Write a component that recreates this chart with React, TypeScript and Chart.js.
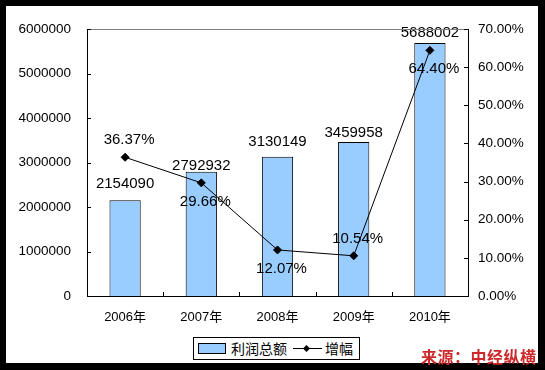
import React, { useEffect, useRef } from "react";
import { Chart, registerables } from "chart.js";

Chart.register(...registerables);

const categories = ["2006年", "2007年", "2008年", "2009年", "2010年"];
const profitTotal = [2154090, 2792932, 3130149, 3459958, 5688002];
const growthRate = [36.37, 29.66, 12.07, 10.54, 64.4];
const barLabelGap = [12, 2, 11, 5, 6];
const rateLabelPlacement = ["above", "below", "below", "above", "below"];

const LATIN = "'Liberation Sans', Arial, 'Noto Sans CJK SC', sans-serif";
const CJK = "'Noto Sans CJK SC', 'Liberation Sans', sans-serif";

const framePlugin = {
  id: "frame",
  beforeDraw(chart: any) {
    const ctx = chart.ctx;
    ctx.save();
    ctx.fillStyle = "#000";
    ctx.fillRect(0, 0, chart.width, chart.height);
    ctx.fillStyle = "#fff";
    ctx.fillRect(6, 6, 532, 357);
    ctx.restore();
  },
  afterDraw(chart: any) {
    const ctx = chart.ctx;
    const { left, right, top, bottom } = chart.chartArea;
    ctx.save();
    ctx.strokeStyle = "#808080";
    ctx.lineWidth = 1;
    ctx.beginPath();
    ctx.moveTo(left, Math.round(top) + 0.5);
    ctx.lineTo(right, Math.round(top) + 0.5);
    ctx.stroke();
    ctx.strokeStyle = "#000";
    ctx.beginPath();
    const ys = chart.scales.y;
    ys.ticks.forEach((t: any) => {
      const py = Math.round(ys.getPixelForValue(t.value)) + 0.5;
      ctx.moveTo(left, py);
      ctx.lineTo(left + 4, py);
    });
    const y1 = chart.scales.y1;
    y1.ticks.forEach((t: any) => {
      const py = Math.round(y1.getPixelForValue(t.value)) + 0.5;
      ctx.moveTo(right, py);
      ctx.lineTo(right - 4, py);
    });
    const n = categories.length;
    for (let i = 1; i < n; i++) {
      const px = Math.round(left + ((right - left) * i) / n) + 0.5;
      ctx.moveTo(px, bottom);
      ctx.lineTo(px, bottom - 4);
    }
    ctx.stroke();
    ctx.restore();
  },
  afterDatasetsDraw(chart: any) {
    const ctx = chart.ctx;
    ctx.save();
    ctx.fillStyle = "#000";
    ctx.font = `15px ${LATIN}`;
    ctx.textAlign = "center";
    ctx.textBaseline = "alphabetic";
    chart.getDatasetMeta(1).data.forEach((el: any, i: number) => {
      ctx.fillText(String(profitTotal[i]), el.x, el.y - barLabelGap[i]);
    });
    chart.getDatasetMeta(0).data.forEach((el: any, i: number) => {
      const txt = growthRate[i].toFixed(2) + "%";
      const dy = rateLabelPlacement[i] === "above" ? -13 : 23;
      ctx.fillText(txt, el.x + 4, el.y + dy);
    });
    ctx.restore();
  },
};

export default function App() {
  const ref = useRef<HTMLCanvasElement>(null);
  useEffect(() => {
    if (!ref.current) return;
    const chart = new Chart(ref.current, {
      type: "bar",
      data: {
        labels: categories,
        datasets: [
          {
            type: "line",
            label: "增幅",
            data: growthRate,
            yAxisID: "y1",
            borderColor: "#000",
            borderWidth: 1,
            pointStyle: "rectRot",
            pointRadius: 4,
            pointBackgroundColor: "#000",
            pointBorderColor: "#000",
            tension: 0,
            order: 0,
          } as any,
          {
            type: "bar",
            label: "利润总额",
            data: profitTotal,
            yAxisID: "y",
            backgroundColor: "#99ccff",
            borderColor: "#000",
            borderWidth: 1,
            borderSkipped: "bottom",
            categoryPercentage: 1,
            barPercentage: 0.41,
            order: 1,
          } as any,
        ],
      },
      options: {
        responsive: false,
        animation: false,
        devicePixelRatio: 1,
        layout: { padding: { top: 29, left: 0, right: 0, bottom: 0 } },
        plugins: {
          legend: { display: false },
          tooltip: { enabled: false },
        },
        scales: {
          x: {
            grid: { display: false, drawTicks: false },
            border: { display: true, color: "#000", width: 1 },
            ticks: {
              color: "#000",
              font: { size: 13, family: LATIN },
              padding: 14,
              maxRotation: 0,
            },
            afterFit(scale: any) {
              scale.height = 74;
            },
          },
          y: {
            position: "left",
            min: 0,
            max: 6000000,
            grid: { display: false, drawTicks: false },
            border: { display: true, color: "#000", width: 1 },
            ticks: {
              stepSize: 1000000,
              color: "#000",
              font: { size: 13.5, family: LATIN },
              padding: 16,
              callback: (v: any) => String(v),
            },
            afterFit(scale: any) {
              scale.width = 87;
            },
          },
          y1: {
            position: "right",
            min: 0,
            max: 70,
            grid: { display: false, drawTicks: false },
            border: { display: true, color: "#000", width: 1 },
            ticks: {
              stepSize: 10,
              color: "#000",
              font: { size: 13.5, family: LATIN },
              padding: 10,
              callback: (v: any) => Number(v).toFixed(2) + "%",
            },
            afterFit(scale: any) {
              scale.width = 77;
            },
          },
        },
      },
      plugins: [framePlugin],
    });
    return () => chart.destroy();
  }, []);

  return (
    <div style={{ position: "absolute", left: 0, top: 0, width: 545, height: 370 }}>
      <canvas ref={ref} width={545} height={370} style={{ display: "block", width: 545, height: 370 }} />
      <div
        style={{
          position: "absolute",
          left: 193,
          top: 337,
          width: 165,
          height: 21,
          border: "1px solid #000",
          background: "#fff",
          fontFamily: CJK,
          fontSize: 14,
          color: "#000",
        }}
      >
        <div
          style={{
            position: "absolute",
            left: 4,
            top: 5,
            width: 26,
            height: 9,
            background: "#99ccff",
            border: "1px solid #000",
          }}
        />
        <div style={{ position: "absolute", left: 37, top: 0, lineHeight: "21px", whiteSpace: "nowrap" }}>
          利润总额
        </div>
        <div
          style={{
            position: "absolute",
            left: 99,
            top: 10,
            width: 29,
            height: 1,
            background: "#000",
          }}
        />
        <div
          style={{
            position: "absolute",
            left: 110,
            top: 7.5,
            width: 5,
            height: 5,
            background: "#000",
            transform: "rotate(45deg)",
          }}
        />
        <div style={{ position: "absolute", left: 131, top: 0, lineHeight: "21px", whiteSpace: "nowrap" }}>
          增幅
        </div>
      </div>
      <div
        style={{
          position: "absolute",
          left: 421,
          top: 347,
          fontFamily: CJK,
          fontWeight: "bold",
          fontSize: 16,
          lineHeight: "18px",
          letterSpacing: 0.5,
          color: "#cc2a2a",
          whiteSpace: "nowrap",
        }}
      >
        来源：中经纵横
      </div>
    </div>
  );
}
